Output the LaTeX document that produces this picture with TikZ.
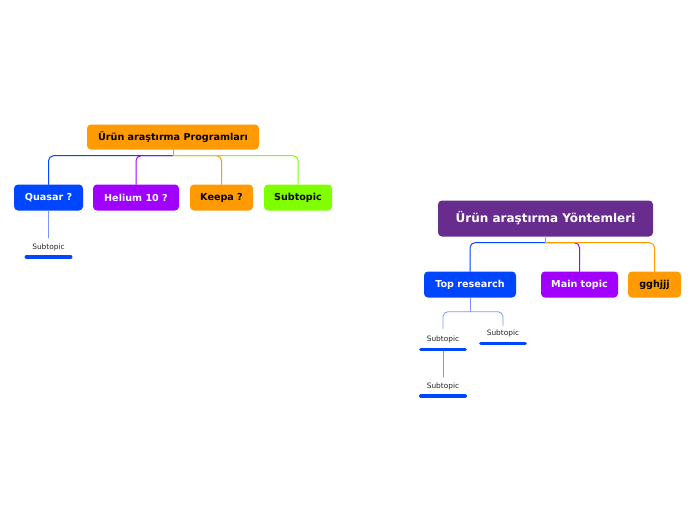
\documentclass[tikz,border=0pt]{standalone}
\usepackage{fontspec}
\setmainfont{DejaVu Sans}
\usetikzlibrary{calc}
\definecolor{mmorange}{HTML}{FF9A00}
\definecolor{mmblue}{HTML}{0045FF}
\definecolor{mmviolet}{HTML}{A100FF}
\definecolor{mmgreen}{HTML}{80FF00}
\definecolor{mmplum}{HTML}{682C8F}
\definecolor{mmlight}{HTML}{7896FF}
\tikzset{
  topic/.style={rounded corners=4pt, font=\bfseries\fontsize{9.6}{11}\selectfont,
    minimum height=26pt, inner xsep=4pt, text=white},
  central/.style={topic, font=\bfseries\fontsize{12}{14}\selectfont,
    minimum height=36pt},
  sub/.style={font=\fontsize{7.4}{8}\selectfont, text=black!85, minimum width=44pt,
    text height=5pt, text depth=1.5pt, inner ysep=2pt},
  link/.style={line width=1pt, rounded corners=5pt},
  sublink/.style={line width=0.8pt, mmlight, rounded corners=5pt},
  uline/.style={line width=3.5pt, mmblue, line cap=round},
}
\begin{document}
\begin{tikzpicture}[x=1pt,y=-1pt,line cap=round,line join=round]
\useasboundingbox (0,0) rectangle (696,520);
% left map
\node[topic, fill=mmorange, text=black, minimum height=25pt, minimum width=172pt] (prog) at (173,137) {Ürün araştırma Programları};
\node[topic, fill=mmblue, minimum width=69pt]   (quasar) at (48.5,197.5) {Quasar ?};
\node[topic, fill=mmviolet, minimum width=86pt] (helium) at (136,197.5) {Helium 10 ?};
\node[topic, fill=mmorange, text=black, minimum width=63pt] (keepa) at (221.5,197.5) {Keepa ?};
\node[topic, fill=mmgreen, text=black, minimum width=68pt]  (green) at (298,197.5) {Subtopic};
\coordinate (pj) at ($(prog.south)+(0,6)$);
\draw[link, mmblue]   (pj) -| (quasar.north);
\draw[link, mmviolet] (pj) -| (helium.north);
\draw[link, mmorange] (pj) -| (keepa.north);
\draw[link, mmgreen]  (pj) -| (green.north);
\draw[link, mmorange] (prog.south) -- (pj);
\node[sub] (qsub) at (48.5,247.5) {Subtopic};
\draw[sublink] (quasar.south) -- ($(qsub.north)+(0,-4)$);
\draw[uline] ($(qsub.south west)+(0,4)$) -- ($(qsub.south east)+(0,4)$);
% right map
\node[central, fill=mmplum, minimum width=215pt] (method) at (545.5,218.5) {Ürün araştırma Yöntemleri};
\node[topic, fill=mmblue, minimum width=92pt]   (top)  at (470,284.5) {Top research};
\node[topic, fill=mmviolet, minimum width=77pt] (main) at (579.5,284.5) {Main topic};
\node[topic, fill=mmorange, text=black, minimum width=53pt] (gg) at (654.5,284.5) {gghjjj};
\coordinate (mj) at ($(method.south)+(0,6)$);
\draw[link, mmblue]   (mj) -| (top.north);
\draw[link, mmviolet] (mj) -| (main.north);
\draw[link, mmorange] (mj) -| (gg.north);
\draw[link, mmorange] (method.south) -- (mj);
\node[sub] (tsub1) at (443,340) {Subtopic};
\node[sub] (tsub2) at (503,333.8) {Subtopic};
\node[sub] (tsub3) at (443,386.5) {Subtopic};
\coordinate (tj) at ($(top.south)+(0,14)$);
\draw[sublink] (top.south) -- (tj);
\draw[sublink] (tj) -| ($(tsub1.north)+(0,-6)$);
\draw[sublink] (tj) -| ($(tsub2.north)+(0,-3)$);
\draw[sublink] ($(tsub1.south)+(0,4)$) -- ($(tsub3.north)+(0,-4)$);
\draw[uline] ($(tsub1.south west)+(0,4)$) -- ($(tsub1.south east)+(0,4)$);
\draw[uline] ($(tsub2.south west)+(0,4)$) -- ($(tsub2.south east)+(0,4)$);
\draw[uline] ($(tsub3.south west)+(0,4)$) -- ($(tsub3.south east)+(0,4)$);
\end{tikzpicture}
\end{document}
